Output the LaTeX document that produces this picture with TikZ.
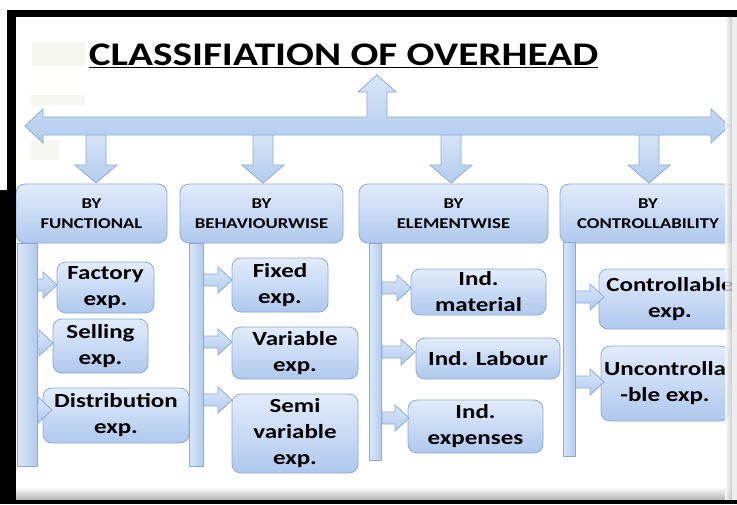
\documentclass[tikz,border=0pt]{standalone}
\usepackage{fontspec}
\setmainfont{Carlito}
\newfontfamily\boxfont{Carlito}[FakeStretch=1.25]
\usetikzlibrary{calc}
\definecolor{boxtop}{HTML}{E2ECFA}
\definecolor{boxbot}{HTML}{AFC8EE}
\definecolor{boxline}{HTML}{8DAAD6}
\definecolor{arrtop}{HTML}{D9E6F8}
\definecolor{arrbot}{HTML}{B3CBEF}
\definecolor{patch}{HTML}{F1F3E4}
\tikzset{
  catbox/.style={draw=boxline, line width=0.8pt, rounded corners=9pt,
    top color=boxtop, bottom color=boxbot, align=center, inner sep=0pt,
    font=\boxfont\bfseries\fontsize{15}{20}\selectfont},
  itembox/.style={catbox, font=\boxfont\bfseries\fontsize{20}{26}\selectfont},
  vbar/.style={draw=boxline, line width=0.8pt, left color=arrtop, right color=arrbot},
  blockarrow/.style={draw=boxline, line width=0.8pt, top color=arrtop, bottom color=arrbot, line join=miter},
}
\newcommand\rblock[2]{%
  \draw[blockarrow] ($(#1)+(0,-6)$) -- ($(#2)+(-14,-6)$) -- ($(#2)+(-14,-13)$) -- (#2)
   -- ($(#2)+(-14,13)$) -- ($(#2)+(-14,6)$) -- ($(#1)+(0,6)$) -- cycle;}
\newcommand\dblock[2]{%
  \draw[blockarrow] ($(#1)+(-10,0)$) -- ($(#2)+(-10,-18)$) -- ($(#2)+(-21,-18)$) -- (#2)
   -- ($(#2)+(21,-18)$) -- ($(#2)+(10,-18)$) -- ($(#1)+(10,0)$) -- cycle;}
\begin{document}
\begin{tikzpicture}[x=1pt,y=-1pt]
\useasboundingbox (0,0) rectangle (737,504);
\clip (0,0) rectangle (737,504);
% background
\fill[white] (0,0) rectangle (737,504);
\fill[patch, opacity=0.6] (32,42) rectangle (85,66);
\fill[patch, opacity=0.5] (30,95) rectangle (85,106);
\fill[patch, opacity=0.5] (30,140) rectangle (60,160);
\shade[top color=white, bottom color=black!30] (16,487) rectangle (737,500);
% title
\node (title) at (343.5,56) {\boxfont\bfseries\fontsize{33}{36}\selectfont\underline{CLASSIFIATION OF OVERHEAD}};
% down arrows (drawn under the bar)
\coordinate (s1) at (96,130); \coordinate (d1) at (96,183);
\coordinate (s2) at (263,130); \coordinate (d2) at (263,183);
\coordinate (s3) at (451,130); \coordinate (d3) at (451,183);
\coordinate (s4) at (649,130); \coordinate (d4) at (649,183);
\dblock{s1}{d1}\dblock{s2}{d2}\dblock{s3}{d3}\dblock{s4}{d4}
% horizontal double arrow with up arrow
\coordinate (lt) at (25,126); \coordinate (rt) at (729,126); \coordinate (ut) at (377,75);
\draw[blockarrow] (lt) -- ++(18,-17) -- ++(0,8) -- (367,117) -- (367,92) -- (358,92) -- (ut)
  -- (396,92) -- (387,92) -- (387,117) -- (711,117) -- (711,109) -- (rt) -- (711,143)
  -- (711,135) -- (43,135) -- (43,143) -- cycle;
% category boxes
\node[catbox, minimum width=151pt, minimum height=59pt] (c1) at (91.5,213.5) {BY\\FUNCTIONAL};
\node[catbox, minimum width=163pt, minimum height=59pt] (c2) at (261.5,213.5) {BY\\BEHAVIOURWISE};
\node[catbox, minimum width=189pt, minimum height=59pt] (c3) at (453.5,213.5) {BY\\ELEMENTWISE};
\node[catbox, minimum width=176pt, minimum height=59pt] (c4) at (648,213.5) {BY\\CONTROLLABILITY};
% vertical bars
\node[vbar, minimum width=20pt, minimum height=223pt, inner sep=0pt] (b1) at (27,354.5) {};
\node[vbar, minimum width=14pt, minimum height=223pt, inner sep=0pt] (b2) at (196,354.5) {};
\node[vbar, minimum width=12pt, minimum height=217pt, inner sep=0pt] (b3) at (375.5,351.5) {};
\node[vbar, minimum width=12pt, minimum height=214pt, inner sep=0pt] (b4) at (569,349) {};
% items column 1
\node[itembox, minimum width=97pt, minimum height=51pt] (f1) at (105.5,287.5) {Factory\\exp.};
\node[itembox, minimum width=95pt, minimum height=54pt] (f2) at (100.5,346) {Selling\\exp.};
\node[itembox, minimum width=146pt, minimum height=55pt] (f3) at (116,415.5) {Distribution\\exp.};
% items column 2
\node[itembox, minimum width=96pt, minimum height=54pt] (g1) at (280,285) {Fixed\\exp.};
\node[itembox, minimum width=126pt, minimum height=52pt] (g2) at (295,353) {Variable\\exp.};
\node[itembox, minimum width=126pt, minimum height=79pt] (g3) at (295,433.5) {Semi\\variable\\exp.};
% items column 3
\node[itembox, minimum width=135pt, minimum height=46pt] (h1) at (478.5,292) {Ind.\\material};
\node[itembox, minimum width=144pt, minimum height=41pt] (h2) at (488,358.5) {Ind. Labour};
\node[itembox, minimum width=135pt, minimum height=53pt] (h3) at (475.5,426.5) {Ind.\\expenses};
% items column 4
\node[itembox, minimum width=142pt, minimum height=60pt] (k1) at (670,299) {Controllable\\exp.};
\node[itembox, minimum width=128pt, minimum height=75pt] (k2) at (665,383.5) {Uncontrolla\\-ble exp.};
% arrow tips
\coordinate (tf1) at (57,285); \coordinate (tf2) at (53,343); \coordinate (tf3) at (52,410);
\coordinate (tg1) at (232,280); \coordinate (tg2) at (232,342); \coordinate (tg3) at (232,400);
\coordinate (th1) at (411,288); \coordinate (th2) at (415,352); \coordinate (th3) at (409,418);
\coordinate (tk1) at (604,297); \coordinate (tk2) at (604,382);
\rblock{b1.east |- tf1}{tf1}\rblock{b1.east |- tf2}{tf2}\rblock{b1.east |- tf3}{tf3}
\rblock{b2.east |- tg1}{tg1}\rblock{b2.east |- tg2}{tg2}\rblock{b2.east |- tg3}{tg3}
\rblock{b3.east |- th1}{th1}\rblock{b3.east |- th2}{th2}\rblock{b3.east |- th3}{th3}
\rblock{b4.east |- tk1}{tk1}\rblock{b4.east |- tk2}{tk2}
% right edge shadow
\shade[left color=white, right color=black!25, opacity=0.8] (725,17) rectangle (732,500);
\fill[black!7] (732,17) rectangle (737,500);
% frame
\fill[black] (7,10) rectangle (737,17);
\fill[black] (7,10) rectangle (16,504);
\fill[black] (0,190) rectangle (16,504);
\fill[black] (0,500) rectangle (737,504);
\end{tikzpicture}
\end{document}
